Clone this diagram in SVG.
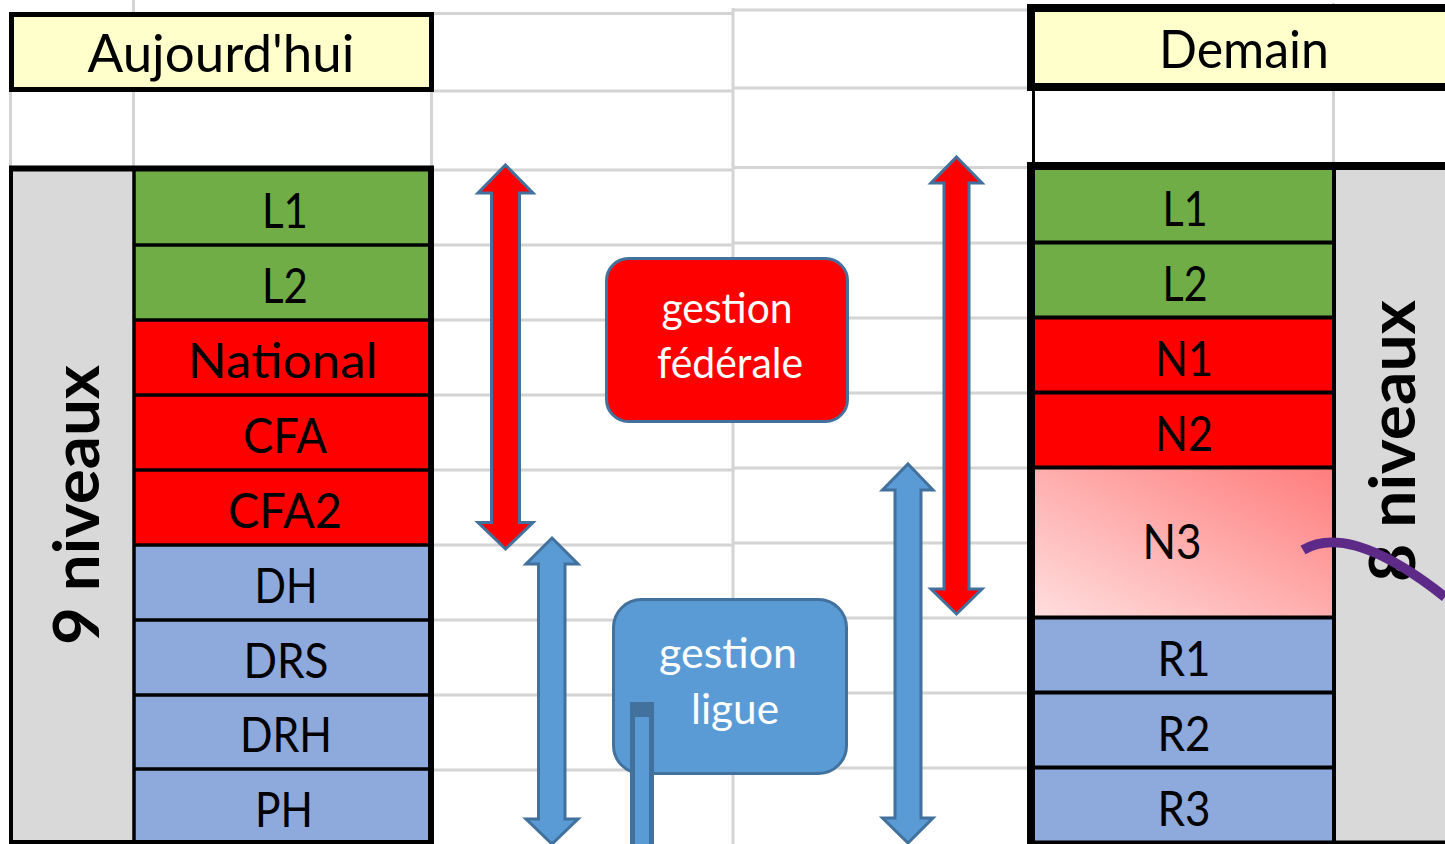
<svg xmlns="http://www.w3.org/2000/svg" width="1445" height="844" viewBox="0 0 1445 844">
  <style>
    .grid { stroke: #D4D4D4; stroke-width: 3; fill: none; }
    .bk { stroke: #000; fill: none; }
    .lbl { font-family: Lato, "Liberation Sans", sans-serif; font-size: 48px; fill: #000; text-anchor: middle; }
    .hdr { font-family: Lato, "Liberation Sans", sans-serif; font-size: 52px; fill: #000; text-anchor: middle; }
    .side { font-family: Lato, "Liberation Sans", sans-serif; font-size: 64px; font-weight: bold; fill: #000; text-anchor: middle; }
    .box { font-family: Lato, "Liberation Sans", sans-serif; font-size: 42px; fill: #FFF; text-anchor: middle; }
    .green { fill: #70AD47; }
    .red { fill: #FF0000; }
    .blue { fill: #8EA9DB; }
    .grey { fill: #D9D9D9; }
    .yellow { fill: #FFFFCC; }
    .arrowR { fill: #FF0000; stroke: #41719C; stroke-width: 3; stroke-linejoin: miter; }
    .arrowB { fill: #5B9BD5; stroke: #41719C; stroke-width: 3; stroke-linejoin: miter; }
  </style>
  <defs>
    <linearGradient id="n3grad" x1="0" y1="1" x2="1" y2="0">
      <stop offset="0" stop-color="#FFDEDE"/>
      <stop offset="1" stop-color="#FF7C7C"/>
    </linearGradient>
  </defs>

  <rect x="0" y="0" width="1445" height="844" fill="#FFFFFF"/>

  <!-- spreadsheet grid -->
  <g id="grid">
    <path class="grid" d="M434,13.5H733 M434,91H733 M434,170H733 M434,245H733 M434,320H733 M434,395H733 M434,470H733 M434,545H733 M434,620H733 M434,695H733 M434,770H733"/>
    <path class="grid" d="M733,10H1027 M733,88H1027 M733,167.5H1027 M733,243H1027 M733,318H1027 M733,393H1027 M733,468H1027 M733,543H1027 M733,618H1027 M733,693H1027 M733,768H1027"/>
    <path class="grid" d="M733,8V844"/>
    <path class="grid" d="M133.5,0V12 M133.5,92V166 M10.5,92V166 M431.5,92V166"/>
    <path class="grid" d="M1333.5,88V163 M1333.5,3V8"/>
  </g>

  <!-- Left table : Aujourd'hui -->
  <g id="aujourdhui">
    <g id="header-left">
      <rect class="yellow" x="11.5" y="14.5" width="420" height="75" stroke="#000" stroke-width="5"/>
      <text class="hdr" x="221" y="72" textLength="267" lengthAdjust="spacingAndGlyphs">Aujourd'hui</text>
    </g>
    <g id="niveaux-9">
      <rect class="grey" x="11" y="168" width="123" height="674"/>
      <text class="side" transform="translate(99,505) rotate(-90)" textLength="280" lengthAdjust="spacingAndGlyphs">9 niveaux</text>
    </g>
    <g id="l-L1"><rect class="green" x="134" y="170" width="297" height="75"/><text class="lbl" x="285" y="228" textLength="46" lengthAdjust="spacingAndGlyphs">L1</text></g>
    <g id="l-L2"><rect class="green" x="134" y="245" width="297" height="75"/><text class="lbl" x="285" y="303" textLength="46" lengthAdjust="spacingAndGlyphs">L2</text></g>
    <g id="l-National"><rect class="red" x="134" y="320" width="297" height="75"/><text class="lbl" x="283" y="378" textLength="190" lengthAdjust="spacingAndGlyphs">National</text></g>
    <g id="l-CFA"><rect class="red" x="134" y="395" width="297" height="75"/><text class="lbl" x="285" y="453" textLength="84" lengthAdjust="spacingAndGlyphs">CFA</text></g>
    <g id="l-CFA2"><rect class="red" x="134" y="470" width="297" height="75"/><text class="lbl" x="285" y="528" textLength="114" lengthAdjust="spacingAndGlyphs">CFA2</text></g>
    <g id="l-DH"><rect class="blue" x="134" y="545" width="297" height="75"/><text class="lbl" x="286" y="603" textLength="63" lengthAdjust="spacingAndGlyphs">DH</text></g>
    <g id="l-DRS"><rect class="blue" x="134" y="620" width="297" height="75"/><text class="lbl" x="286" y="678" textLength="85" lengthAdjust="spacingAndGlyphs">DRS</text></g>
    <g id="l-DRH"><rect class="blue" x="134" y="695" width="297" height="75"/><text class="lbl" x="286" y="752" textLength="92" lengthAdjust="spacingAndGlyphs">DRH</text></g>
    <g id="l-PH"><rect class="blue" x="134" y="770" width="297" height="72"/><text class="lbl" x="284" y="827" textLength="58" lengthAdjust="spacingAndGlyphs">PH</text></g>
    <g id="borders-left">
      <path class="bk" stroke-width="3.5" d="M134,245H431 M134,320H431 M134,395H431 M134,470H431 M134,545H431 M134,620H431 M134,695H431 M134,769H431"/>
      <path class="bk" stroke-width="3.5" d="M134,168V844"/>
      <path class="bk" stroke-width="6" d="M9,168.5H434"/>
      <path class="bk" stroke-width="4" d="M11,166V844"/>
      <path class="bk" stroke-width="6" d="M431,166V844"/>
      <path class="bk" stroke-width="4" d="M9,842H434"/>
    </g>
  </g>

  <!-- Right table : Demain -->
  <g id="demain">
    <g id="header-right">
      <rect class="yellow" x="1031" y="8" width="420" height="79" stroke="#000" stroke-width="8"/>
      <text class="hdr" x="1244" y="68" font-size="49" textLength="170" lengthAdjust="spacingAndGlyphs">Demain</text>
    </g>
    <g id="niveaux-8">
      <rect class="grey" x="1334" y="166" width="111" height="678"/>
      <text class="side" transform="translate(1415,441) rotate(-90)" textLength="282" lengthAdjust="spacingAndGlyphs">8 niveaux</text>
    </g>
    <g id="r-L1"><rect class="green" x="1035" y="170" width="299" height="72"/><text class="lbl" x="1185" y="226" textLength="45" lengthAdjust="spacingAndGlyphs">L1</text></g>
    <g id="r-L2"><rect class="green" x="1035" y="242" width="299" height="75"/><text class="lbl" x="1185" y="301" textLength="45" lengthAdjust="spacingAndGlyphs">L2</text></g>
    <g id="r-N1"><rect class="red" x="1035" y="317" width="299" height="75"/><text class="lbl" x="1184" y="376" textLength="58" lengthAdjust="spacingAndGlyphs">N1</text></g>
    <g id="r-N2"><rect class="red" x="1035" y="392" width="299" height="75"/><text class="lbl" x="1184" y="451" textLength="58" lengthAdjust="spacingAndGlyphs">N2</text></g>
    <g id="r-N3"><rect fill="url(#n3grad)" x="1035" y="467" width="299" height="150"/><text class="lbl" x="1172" y="559" textLength="59" lengthAdjust="spacingAndGlyphs">N3</text></g>
    <g id="r-R1"><rect class="blue" x="1035" y="617" width="299" height="75"/><text class="lbl" x="1184" y="676" textLength="53" lengthAdjust="spacingAndGlyphs">R1</text></g>
    <g id="r-R2"><rect class="blue" x="1035" y="692" width="299" height="75"/><text class="lbl" x="1184" y="751" textLength="53" lengthAdjust="spacingAndGlyphs">R2</text></g>
    <g id="r-R3"><rect class="blue" x="1035" y="767" width="299" height="75"/><text class="lbl" x="1184" y="826" textLength="53" lengthAdjust="spacingAndGlyphs">R3</text></g>
    <g id="borders-right">
      <path class="bk" stroke-width="3" d="M1033.5,87V164"/>
      <path class="bk" stroke-width="4" d="M1035,242.5H1334 M1035,317.5H1334 M1035,392.5H1334 M1035,467.5H1334 M1035,617.5H1334 M1035,692.5H1334 M1035,767.5H1334"/>
      <path class="bk" stroke-width="4" d="M1334,166V844"/>
      <path class="bk" stroke-width="8" d="M1027,166H1445"/>
      <path class="bk" stroke-width="8" d="M1031,162V844"/>
      <path class="bk" stroke-width="4" d="M1027,842.5H1445"/>
    </g>
  </g>

  <!-- management boxes -->
  <g id="gestion-federale">
    <rect x="606.5" y="258.5" width="241" height="163" rx="22" ry="22" fill="#FF0000" stroke="#41719C" stroke-width="3"/>
    <text class="box" x="727" y="323" textLength="131" lengthAdjust="spacingAndGlyphs">gestion</text>
    <text class="box" x="730" y="378" textLength="146" lengthAdjust="spacingAndGlyphs">fédérale</text>
  </g>
  <g id="gestion-ligue">
    <rect x="613.5" y="599.5" width="233" height="174" rx="28" ry="28" fill="#5B9BD5" stroke="#41719C" stroke-width="3"/>
    <text class="box" x="728" y="668" textLength="138" lengthAdjust="spacingAndGlyphs">gestion</text>
    <text class="box" x="735" y="724" textLength="88" lengthAdjust="spacingAndGlyphs">ligue</text>
  </g>

  <!-- connectors -->
  <g id="connectors">
    <polygon class="arrowR" points="505.5,165 533,193 519.5,193 519.5,522.5 533,522.5 505.5,549 478,522.5 491.5,522.5 491.5,193 478,193"/>
    <polygon class="arrowR" points="956.5,157 982,183 969,183 969,589 982,589 956.5,614 931,589 944,589 944,183 931,183"/>
    <polygon class="arrowB" points="552,538 578,564 565,564 565,819 578,819 552,844 526,819 538.5,819 538.5,564 526,564"/>
    <polygon class="arrowB" points="908,464 933,490 921,490 921,818 933,818 908,843 882.5,818 895,818 895,490 882.5,490"/>
    <g id="partial-shaft">
      <rect x="630" y="702" width="24" height="150" fill="#41719C"/>
      <rect x="635" y="717" width="14" height="135" fill="#5B9BD5"/>
    </g>
    <path d="M1303,550 Q1350,522 1445,597" fill="none" stroke="#5E2A88" stroke-width="10"/>
  </g>
</svg>
